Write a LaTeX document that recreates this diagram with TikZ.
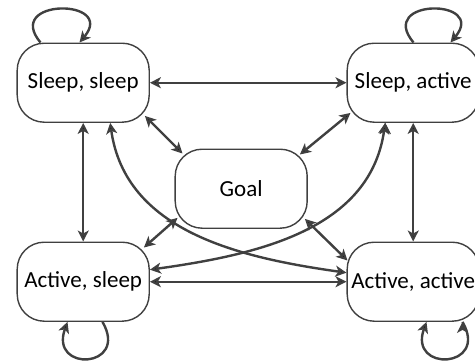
\documentclass[tikz,border=0pt]{standalone}
\usepackage{fontspec}
\setmainfont{Carlito}
\usepackage{tikz}
\usetikzlibrary{matrix,arrows.meta}
\definecolor{linegray}{HTML}{404040}

\begin{document}
\begin{tikzpicture}[x=1pt,y=1pt,
  state/.style={draw=linegray, line width=1.4pt, rounded corners=27pt,
    minimum width=132pt, minimum height=79pt, inner sep=2pt, anchor=center,
    font=\fontsize{23}{27}\selectfont},
  trans/.style={draw=linegray, line width=2.4pt,
    >={Stealth[length=11pt,width=11pt,inset=3pt]}}]
  \useasboundingbox (0,0) rectangle (475,-360);
  \matrix (m) [matrix of nodes, nodes={state}, row sep=0pt, column sep=0pt,
    inner sep=0pt, anchor=north west] at (16.3,-42.3)
  {
    Sleep, sleep  &[24.6pt]    &[38.6pt] Sleep, active  \\[25.6pt]
                  & Goal       &                        \\[12.6pt]
    Active, sleep &            & Active, active         \\
  };
  \path[trans,<->]
  (m-1-1) edge (m-1-3)
          edge (m-3-1)
  (m-3-1) edge (m-3-3)
  (m-1-3) edge (m-3-3)
  ([shift={(-5pt,7pt)}]m-1-1.south east)  edge ([shift={(8pt,-5pt)}]m-2-2.north west)
  ([shift={(4pt,10pt)}]m-1-3.south west)  edge ([shift={(-8pt,-6pt)}]m-2-2.north east)
  ([shift={(-6pt,-6pt)}]m-3-1.north east) edge ([shift={(3pt,11pt)}]m-2-2.south west)
  ([shift={(1pt,-19pt)}]m-3-3.north west) edge ([shift={(-3pt,10pt)}]m-2-2.south east)
  ([xshift=27pt]m-1-1.south)  edge [out=-82, in=172] ([yshift=9pt]m-3-3.west)
  ([xshift=-28pt]m-1-3.south) edge [out=-98, in=8]   ([yshift=12pt]m-3-1.east)
  ;
  \path[trans,->]
  ([xshift=24pt]m-1-1.north west)  edge [out=130, in=50, distance=58pt] ([xshift=63pt]m-1-1.north west)
  ([xshift=67pt]m-1-3.north west)  edge [out=130, in=50, distance=58pt] ([xshift=104pt]m-1-3.north west)
  ([xshift=86pt]m-3-1.south west)  edge [out=-60, in=-110, distance=54pt] ([xshift=51pt]m-3-1.south west)
  ([xshift=116pt]m-3-3.south west) edge [out=-60, in=-110, distance=54pt] ([xshift=80pt]m-3-3.south west)
  ;
\end{tikzpicture}
\end{document}
